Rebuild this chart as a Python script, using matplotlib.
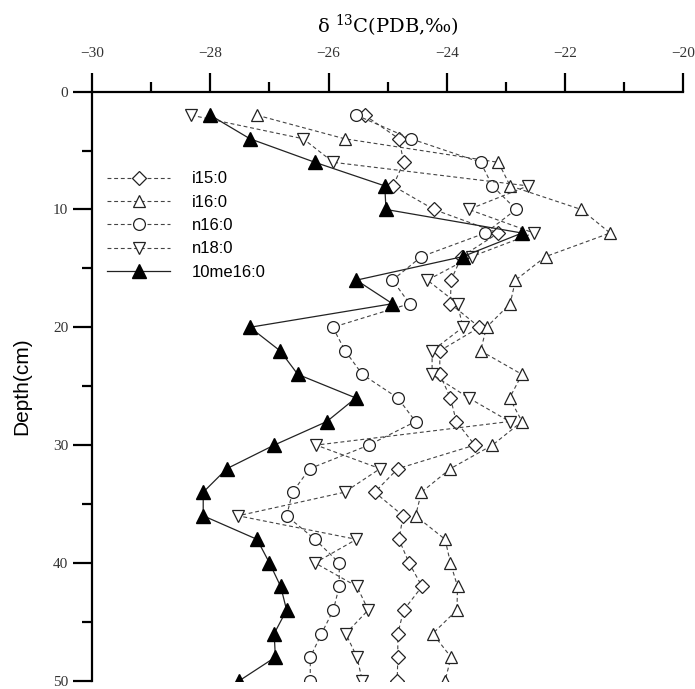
import matplotlib.pyplot as plt
from matplotlib.ticker import MultipleLocator
import numpy as np

plt.rcParams['mathtext.fontset'] = 'dejavuserif'

depth = np.arange(2, 51, 2)

i15_0 = [-25.39, -24.81, -24.73, -24.91, -24.22, -23.13, -23.75, -23.93, -23.94, -23.45,
         -24.12, -24.12, -23.94, -23.84, -23.53, -24.83, -25.22, -24.74, -24.81, -24.64,
         -24.42, -24.73, -24.83, -24.83, -24.84]
i16_0 = [-27.21, -25.73, -23.13, -22.93, -21.73, -21.24, -22.33, -22.84, -22.93, -23.33,
         -23.43, -22.73, -22.94, -22.73, -23.23, -23.94, -24.43, -24.53, -24.03, -23.94,
         -23.82, -23.83, -24.24, -23.93, -24.03]
n16_0 = [-25.53, -24.61, -23.43, -23.23, -22.83, -23.35, -24.43, -24.92, -24.63, -25.93,
         -25.72, -25.43, -24.83, -24.53, -25.32, -26.32, -26.61, -26.71, -26.23, -25.82,
         -25.82, -25.92, -26.12, -26.31, -26.31]
n18_0 = [-28.32, -26.43, -25.92, -22.63, -23.63, -22.53, -23.58, -24.33, -23.82, -23.73,
         -24.25, -24.25, -23.63, -22.94, -26.21, -25.13, -25.73, -27.53, -25.53, -26.23,
         -25.52, -25.33, -25.71, -25.52, -25.43]
me10_16_0 = [-28.0, -27.33, -26.23, -25.05, -25.03, -22.73, -23.73, -25.53, -24.92, -27.33,
             -26.82, -26.52, -25.54, -26.03, -26.92, -27.72, -28.12, -28.12, -27.21, -27.0,
             -26.81, -26.71, -26.92, -26.9, -27.51]

fig = plt.figure(figsize=(6.95, 6.89), dpi=100, facecolor='white')
ax = fig.add_axes([0.1324, 0.012, 0.851, 0.855])

dash = dict(linestyle=(0, (3.5, 2.5)), linewidth=0.8, color='#444444',
            markerfacecolor='white', markeredgecolor='#222222', markeredgewidth=0.9)

ax.plot(i15_0, depth, marker='D', markersize=7, label='i15:0', **dash)
ax.plot(i16_0, depth, marker='^', markersize=9, label='i16:0', **dash)
ax.plot(n16_0, depth, marker='o', markersize=8.5, label='n16:0', **dash)
ax.plot(n18_0, depth, marker='v', markersize=9, label='n18:0', **dash)
ax.plot(me10_16_0, depth, '-', color='#222222', linewidth=0.9, marker='^',
        markersize=10, markerfacecolor='black', markeredgecolor='black', label='10me16:0')

ax.set_xlim(-30, -20)
ax.set_ylim(50, 0)

ax.xaxis.tick_top()
ax.xaxis.set_label_position('top')
ax.xaxis.set_major_locator(MultipleLocator(2))
ax.xaxis.set_minor_locator(MultipleLocator(1))
ax.yaxis.set_major_locator(MultipleLocator(10))
ax.yaxis.set_minor_locator(MultipleLocator(5))

for s in ['bottom', 'right']:
    ax.spines[s].set_visible(False)
for s in ['top', 'left']:
    ax.spines[s].set_linewidth(1.6)

ax.tick_params(which='major', length=14, width=1.6, direction='out')
ax.tick_params(which='minor', length=7, width=1.6, direction='out')
ax.tick_params(axis='x', which='major', pad=9)
ax.tick_params(axis='y', which='major', pad=3)

for lab in ax.get_xticklabels() + ax.get_yticklabels():
    lab.set_family('Liberation Serif')
    lab.set_fontsize(11)
    lab.set_color('#333333')

ax.set_xlabel('δ $^{13}$C(PDB,‰)', fontsize=14, family='DejaVu Serif',
              labelpad=10)
ax.set_ylabel('Depth(cm)', fontsize=15, family='Liberation Sans', labelpad=16)

leg = ax.legend(loc='upper left', bbox_to_anchor=(0.0, 0.89), frameon=False,
                prop={'family': 'Liberation Sans', 'size': 12},
                handlelength=3.8, labelspacing=0.5, handletextpad=1.3)

fig.savefig('out.png', dpi=100, facecolor='white')
